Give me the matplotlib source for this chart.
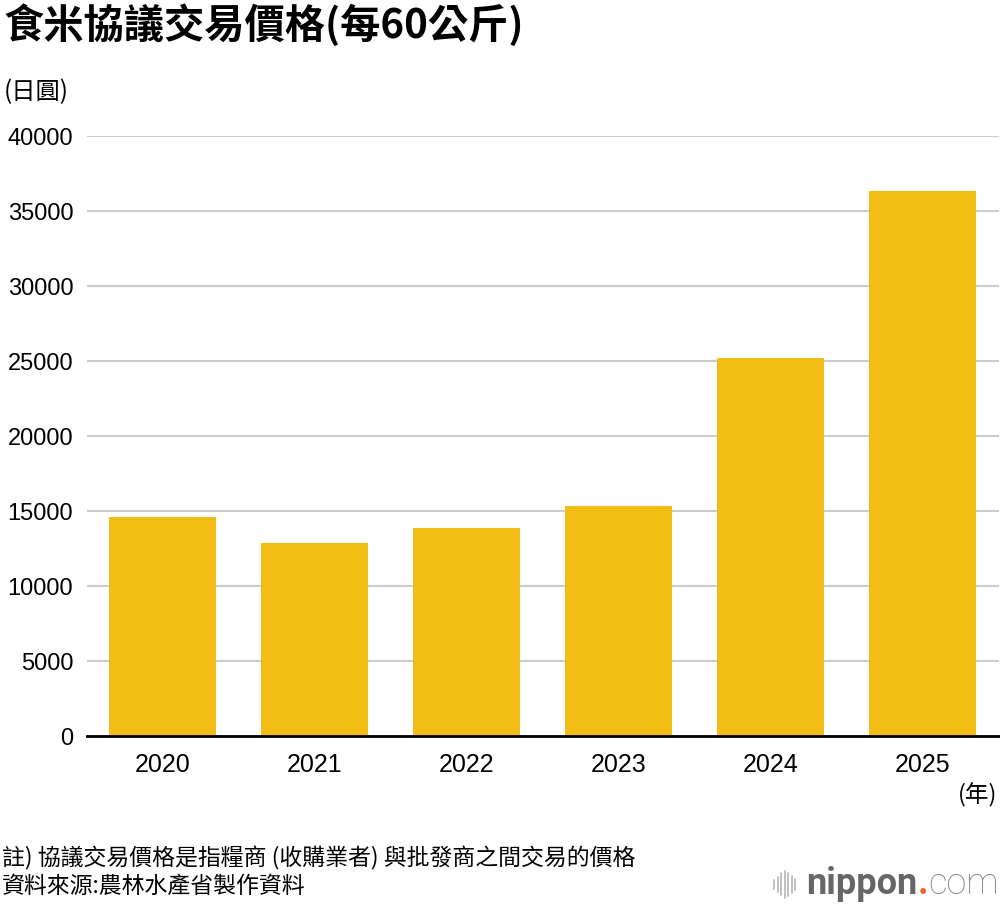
import matplotlib
matplotlib.use("Agg")
import matplotlib.pyplot as plt
from matplotlib.lines import Line2D

plt.rcParams['font.family'] = ['Noto Sans CJK TC', 'DejaVu Sans']

# data: 食米協議交易價格 (每60公斤, 日圓)
years = ['2020', '2021', '2022', '2023', '2024', '2025']
prices = [14580, 12850, 13850, 15330, 25200, 36330]
yticks = [0, 5000, 10000, 15000, 20000, 25000, 30000, 35000, 40000]

bar_color = '#F1BD15'

fig = plt.figure(figsize=(10, 9.08), dpi=100)
ax = fig.add_axes([0.0865, 0.1894, 0.912, 0.6608])

x = range(len(years))
ax.bar(x, prices, width=0.70, color=bar_color, zorder=3)

ax.set_xlim(-0.5, 5.5)
ax.set_ylim(0, 40000)
ax.set_yticks(yticks)
ax.set_yticklabels([str(v) for v in yticks], fontsize=17, family='Liberation Sans')
ax.set_xticks(list(x))
ax.set_xticklabels(years, fontsize=18, family='Liberation Sans')
ax.tick_params(axis='both', length=0)
ax.tick_params(axis='y', pad=9.5)
ax.tick_params(axis='x', pad=12)

ax.grid(axis='y', color='#cccccc', linewidth=1.5, zorder=0)
for s in ['top', 'right', 'left']:
    ax.spines[s].set_visible(False)
ax.spines['bottom'].set_linewidth(2)
ax.spines['bottom'].set_color('black')
ax.spines['bottom'].set_zorder(4)

# titles and labels
fig.text(0.004, 0.972, '食米協議交易價格(每60公斤)', fontsize=29, fontweight='bold',
         ha='left', va='center')
fig.text(0.004, 0.899, '(日圓)', fontsize=17.5, ha='left', va='center')
fig.text(0.997, 0.124, '(年)', fontsize=17, ha='right', va='center')

fig.text(0.002, 0.055, '註) 協議交易價格是指糧商 (收購業者) 與批發商之間交易的價格', fontsize=16.5,
         ha='left', va='center')
fig.text(0.002, 0.024, '資料來源:農林水產省製作資料', fontsize=16.5, ha='left', va='center')

# nippon.com logo
yc = 0.026
heights = [0.010, 0.016, 0.024, 0.030, 0.026, 0.018, 0.012]
for i, h in enumerate(heights):
    xx = 0.774 + i * 0.0035
    fig.add_artist(Line2D([xx, xx], [yc - h / 2, yc + h / 2],
                          color='#bbbbbb', linewidth=1.3, solid_capstyle='round'))
t1 = fig.text(0.806, yc, 'nippon', fontsize=26, color='#666666',
              ha='left', va='center', family='Roboto', fontweight='bold')
fig.canvas.draw()
x2 = t1.get_window_extent().x1 / fig.bbox.width
t2 = fig.text(x2, yc, '.', fontsize=26, color='#E8642C',
              ha='left', va='center', family='Roboto', fontweight='bold')
fig.canvas.draw()
x3 = t2.get_window_extent().x1 / fig.bbox.width
fig.text(x3, yc, 'com', fontsize=26, color='#888888',
         ha='left', va='center', family='Roboto', fontweight='light')

fig.savefig('out.png', dpi=100)
